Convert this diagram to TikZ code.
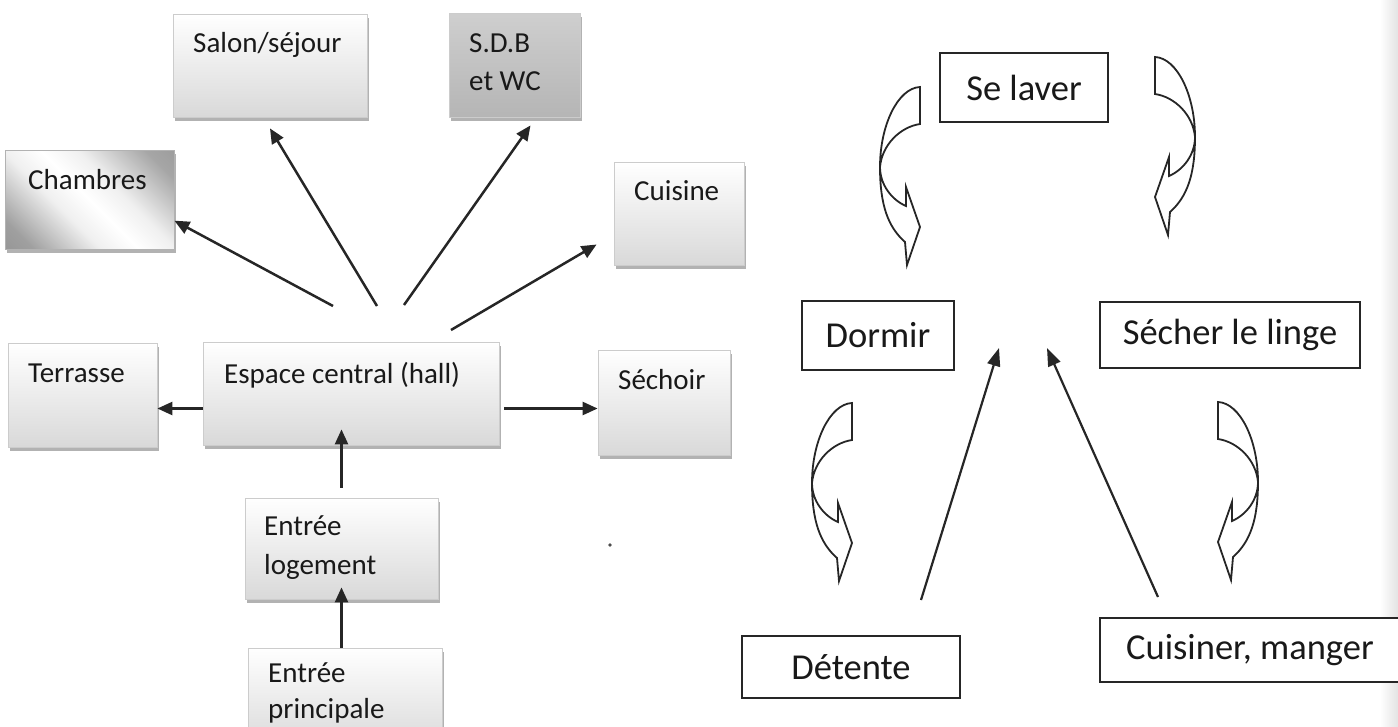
\documentclass[tikz,border=0pt]{standalone}
\usepackage{fontspec}
\setmainfont{Carlito}
\usetikzlibrary{arrows.meta,shadows}

\pgfdeclarehorizontalshading{chambresshade}{100bp}{color(0bp)=(gray!95); color(22bp)=(gray!75); color(40bp)=(gray!12); color(50bp)=(white); color(60bp)=(gray!12); color(78bp)=(gray!70); color(100bp)=(gray!90)}

\begin{document}
\begin{tikzpicture}[x=1pt, y=-1pt,
    room/.style={draw=gray!40, line width=0.8pt, top color=white, bottom color=gray!30, inner sep=0pt,
        drop shadow={shadow xshift=1.5pt, shadow yshift=-3.5pt, fill=gray!60, opacity=1}},
    roomtext/.style={anchor=base west, inner sep=0pt, text=black!90, font=\fontsize{29}{34}\selectfont},
    activity/.style={draw=black!85, line width=2pt, fill=white, inner sep=0pt, text=black!90, font=\fontsize{36.5}{42}\selectfont},
    arr/.style={line width=2.5pt, draw=black!85, -{Triangle[length=15pt,width=13pt]}},
    arrR/.style={line width=2.2pt, draw=black!85, -{Triangle[length=18pt,width=13pt]}},
    curvedarrow/.style={draw=black!85, line width=1.8pt, fill=white, line join=miter}
]
    \useasboundingbox (0,0) rectangle (1398,726);
    \clip (0,0) rectangle (1398,726);

    % Page edge of the scan
    \shade[left color=white, right color=gray!22] (1380,0) rectangle (1398,726);

    % Rooms around the hall
    \node[room, minimum width=194pt, minimum height=103pt] (salon) at (270,65.5) {};
    \node[room, minimum width=131pt, minimum height=104pt, top color=gray!38, bottom color=gray!58] (sdb) at (514.5,65) {};
    \node[room, minimum width=169pt, minimum height=99pt, draw=gray!60, shading=chambresshade, shading angle=45] (chambres) at (89.5,199.5) {};
    \node[room, minimum width=130pt, minimum height=103pt] (cuisine) at (679,213.5) {};
    \node[room, minimum width=149pt, minimum height=104pt] (terrasse) at (82.5,395) {};
    \node[room, minimum width=296pt, minimum height=103pt] (hall) at (351,393.5) {};
    \node[room, minimum width=132pt, minimum height=105pt] (sechoir) at (664,402.5) {};
    \node[room, minimum width=193pt, minimum height=101pt] (logement) at (341.5,548.5) {};
    \node[room, minimum width=194pt, minimum height=102pt] (principale) at (345,699) {};

    % Room names
    \node[roomtext] (salonT) at (193,52) {Salon/séjour};
    \node[roomtext] (sdbT1) at (469,52) {S.D.B};
    \node[roomtext] (sdbT2) at (469,90) {et WC};
    \node[roomtext] (chambresT) at (28,189) {Chambres};
    \node[roomtext] (cuisineT) at (634,200) {Cuisine};
    \node[roomtext] (terrasseT) at (28,382) {Terrasse};
    \node[roomtext] (hallT) at (224,383) {Espace central (hall)};
    \node[roomtext] (sechoirT) at (618,389) {Séchoir};
    \node[roomtext] (logementT1) at (264,535) {Entrée};
    \node[roomtext] (logementT2) at (264,574) {logement};
    \node[roomtext] (principaleT1) at (268,682) {Entrée};
    \node[roomtext] (principaleT2) at (268,718) {principale};

    % Arrows out of the hall
    \coordinate (hallA) at (333,306);
    \coordinate (hallB) at (377,306);
    \coordinate (hallC) at (404,305);
    \coordinate (hallD) at (451,330);
    \draw[arr] (hallA) -- (chambres.-14);
    \draw[arr] (hallB) -- ([yshift=-11pt]salon.south);
    \draw[arr] (hallC) -- ([shift={(16pt,-8pt)}]sdb.south);
    \draw[arr] (hallD) -- ([shift={(-17pt,-31pt)}]cuisine.west);
    \draw[arr] ([yshift=-15pt]hall.west) -- ([yshift=-15pt]hall.west -| terrasse.east);
    \draw[arr] ([shift={(5pt,-15pt)}]hall.east) -- ([yshift=-15pt]hall.east -| sechoir.west);
    \draw[arr] ([yshift=10pt]logement.north) -- ([yshift=16pt]hall.south -| logement.north);
    \draw[arr] (principale.north -| logement.north) -- ([yshift=12pt]logement.south);

    \fill[black!70] (610,545) circle (1.8);

    % Daily activities
    \node[activity, minimum width=168pt, minimum height=69pt] (laver) at (1024,87.5) {Se laver};
    \node[activity, minimum width=152pt, minimum height=69pt] (dormir) at (878,335.5) {Dormir};
    \node[activity, minimum width=260pt, minimum height=66pt] (secher) at (1230,334.5) {Sécher le linge};
    \node[activity, minimum width=218pt, minimum height=62pt] (detente) at (851,667) {Détente};
    \node[activity, minimum width=300pt, minimum height=64pt] (cuisiner) at (1250,650) {Cuisiner, manger};

    % Arrows towards the middle
    \coordinate (tipL) at (999,348);
    \coordinate (tipR) at (1047,348);
    \draw[arrR] ([shift={(70pt,35pt)}]detente.north) -- (tipL);
    \draw[arrR] ([shift={(-92pt,20pt)}]cuisiner.north) -- (tipR);

    % Curved arrows of the cycle
    \foreach \px/\py/\sx in {920/87/1, 852/403/1, 1155/57/-1, 1218/402/-1}
        \draw[curvedarrow, shift={(\px,\py)}, xscale=\sx] (0,0) -- (0,37)
            .. controls (-20,40) and (-38,58) .. (-40,80)
            .. controls (-40,98) and (-28,113) .. (-14,119)
            -- (-14,100) -- (0,140) -- (-13,178) -- (-15,155)
            .. controls (-32,140) and (-40,118) .. (-40,80)
            .. controls (-40,38) and (-22,1) .. (0,0) -- cycle;
\end{tikzpicture}
\end{document}
